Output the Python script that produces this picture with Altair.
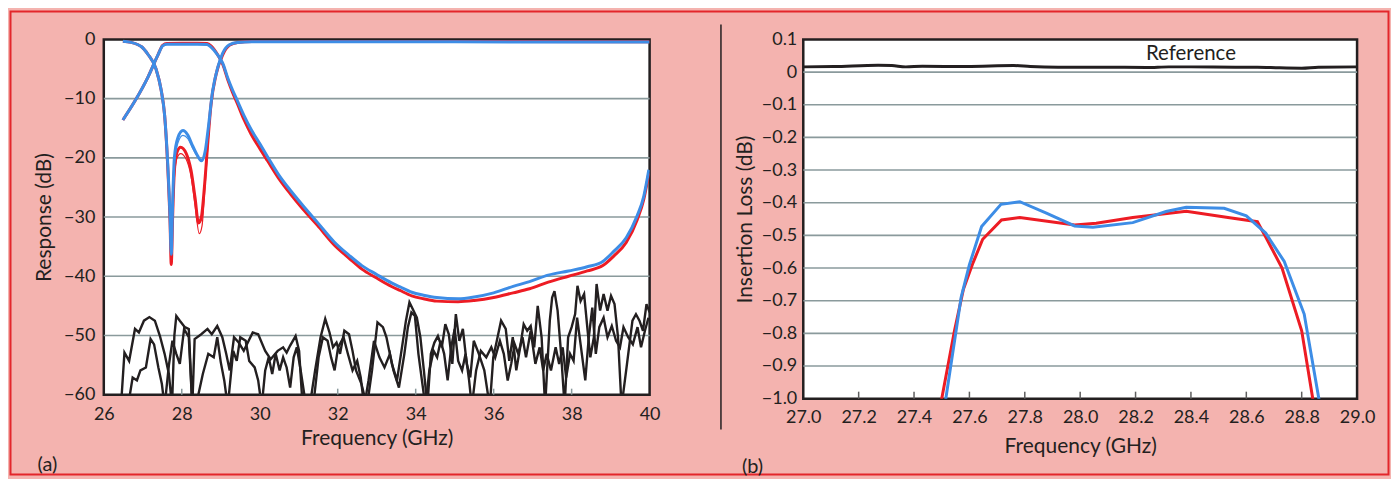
import altair as alt
import pandas as pd

# ---------------- colours / fonts ----------------
PINK = "#F4B3AF"
BORDER = "#E3262B"
DARK = "#231F20"
GRID = "#8A9A9C"
RED = "#ED1C24"
BLUE = "#3D8DE6"
FONT = "Lato"

# ---------------- panel (a) data ----------------
a_x_ticks = [26, 28, 30, 32, 34, 36, 38, 40]
a_y_ticks = [0, -10, -20, -30, -40, -50, -60]
a_grid = [-10, -20, -30, -40, -50]
a_inner_ticks = [28, 30, 32, 34, 36, 38]

s21_f = [26.49, 26.79, 27.13, 27.39, 27.51, 27.62, 28.0, 28.4, 28.65, 28.75, 28.92, 29.05,
         29.18, 29.30, 29.43, 29.6, 29.78, 30.0, 30.2, 30.5, 30.8, 31.1, 31.48, 31.91, 32.3,
         32.62, 33.0, 33.26, 33.6, 33.9, 34.2, 34.54, 35.09, 35.5, 36.0, 36.5, 36.92, 37.4,
         37.92, 38.4, 38.8, 39.08, 39.4, 39.68, 39.85, 39.98]
s21_blue_db = [-13.6, -10.5, -6.4, -2.6, -1.1, -0.8, -0.8, -0.8, -0.85, -1.3, -2.6, -4.0,
               -6.5, -8.5, -10.4, -12.9, -15.2, -17.6, -19.8, -23.0, -25.6, -28.0, -30.9, -34.2,
               -36.5, -38.2, -39.7, -40.7, -41.8, -42.7, -43.2, -43.6, -43.8, -43.5, -42.8, -41.7,
               -40.9, -39.8, -39.1, -38.4, -37.5, -35.8, -33.5, -29.8, -26.5, -22.0]
s21_red_db = [-13.6, -10.5, -6.4, -2.6, -1.0, -0.7, -0.65, -0.65, -0.7, -1.1, -2.6, -4.2,
              -6.8, -8.9, -10.9, -13.6, -16.0, -18.4, -20.5, -23.6, -26.2, -28.6, -31.4, -34.7,
              -37.0, -38.8, -40.3, -41.3, -42.4, -43.3, -43.8, -44.2, -44.3, -44.1, -43.6, -42.8,
              -42.1, -41.0, -40.0, -39.1, -38.2, -36.6, -34.3, -30.5, -27.0, -22.6]

s11_blue_f = [26.49, 26.7, 26.88, 26.96, 27.13, 27.34, 27.47, 27.56, 27.64, 27.70, 27.73, 27.77,
              27.81, 27.90, 28.03, 28.15, 28.28, 28.41, 28.50, 28.60, 28.67, 28.79, 28.92, 29.05,
              29.22, 29.43, 29.8, 30.5, 35.0, 40.0]
s11_blue_db = [-0.3, -0.5, -0.9, -1.2, -2.5, -5.0, -8.5, -12.8, -21.0, -30.1, -36.3, -26.7,
               -20.0, -16.6, -15.4, -16.1, -18.0, -19.7, -20.5, -18.9, -15.5, -8.8, -4.8, -2.3,
               -0.9, -0.5, -0.4, -0.4, -0.4, -0.45]
s11_red_f = [26.49, 26.7, 26.88, 26.96, 27.13, 27.34, 27.47, 27.56, 27.64, 27.70, 27.73, 27.77,
             27.81, 27.88, 27.97, 28.11, 28.24, 28.34, 28.43, 28.50, 28.58, 28.67, 28.75, 28.88,
             29.05, 29.22, 29.43, 29.8, 30.5, 35.0, 40.0]
s11_red_db = [-0.3, -0.5, -0.9, -1.2, -2.5, -5.0, -8.5, -12.8, -21.5, -31.0, -38.0, -29.0,
              -22.2, -19.0, -18.2, -19.2, -22.2, -26.7, -31.0, -30.1, -25.0, -17.2, -11.0, -5.9,
              -2.6, -1.0, -0.5, -0.35, -0.35, -0.35, -0.4]
s11_red_thin_f = [27.73, 27.77, 27.81, 27.88, 27.97, 28.11, 28.24, 28.34, 28.45, 28.52, 28.58, 28.67, 28.75]
s11_red_thin_db = [-38.0, -30.0, -23.5, -20.0, -19.3, -20.2, -23.2, -28.0, -32.8, -31.5, -26.5, -18.0, -11.0]
s11_blue_thin_f = [27.73, 27.77, 27.81, 27.90, 28.03, 28.15, 28.28, 28.41, 28.50]
s11_blue_thin_db = [-36.3, -27.5, -21.0, -17.5, -16.2, -16.7, -18.4, -19.9, -20.5]

noise1_f = [26.44, 26.53, 26.65, 26.80, 26.90, 27.03, 27.17, 27.31, 27.44, 27.56, 27.67, 27.75,
            27.81, 27.86, 27.95, 28.08, 28.18, 28.27,
            28.33, 28.50, 28.66, 28.77, 28.91, 29.04, 29.14, 29.23, 29.34, 29.46, 29.59, 29.82,
            29.96, 30.14, 30.28, 30.46, 30.60, 30.69, 30.78, 30.92, 31.01, 31.10,
            31.28, 31.42, 31.56, 31.68, 31.79, 31.88, 31.97, 32.06, 32.17, 32.29, 32.38, 32.47,
            32.61, 32.75, 32.88, 33.02, 33.16, 33.25, 33.39, 33.52, 33.66, 33.75, 33.84, 33.93,
            34.03, 34.12, 34.21, 34.30,
            34.39, 34.48, 34.57, 34.67, 34.76, 34.85, 34.94, 35.03, 35.12, 35.21, 35.31, 35.40,
            35.49, 35.62, 35.76, 35.90, 35.99, 36.10, 36.19, 36.31, 36.40, 36.49, 36.58, 36.68,
            36.77, 36.86, 36.95, 37.04, 37.13, 37.23, 37.32,
            37.44, 37.50, 37.56, 37.64, 37.73, 37.82, 37.91, 38.00, 38.09, 38.15, 38.23, 38.32,
            38.41, 38.48, 38.57, 38.64, 38.73, 38.82, 38.92, 39.01, 39.10, 39.19, 39.28, 39.42,
            39.56, 39.65, 39.74, 39.83, 39.92, 40.0]
noise1_db = [-62, -52.9, -54.3, -48.9, -49.5, -47.5, -46.9, -47.5, -50.1, -53.1, -56.5, -62,
             -50.0, -46.7, -47.5, -48.6, -48.9, -62,
             -50.6, -49.8, -48.9, -49.8, -48.4, -50.3, -53.1, -55.9, -50.3, -51.2, -52.6, -49.5,
             -49.8, -52.6, -54.0, -52.6, -52.0, -52.9, -51.7, -50.1, -52.6, -62,
             -62, -55.9, -50.3, -47.2, -49.5, -52.0, -51.2, -53.1, -49.2, -49.8, -52.6, -55.9,
             -58.2, -62, -55.9, -47.8, -48.6, -50.3, -54.8, -57.6, -51.5, -47.5, -44.4, -45.6,
             -47.0, -50.3, -55.9, -62,
             -53.1, -51.2, -50.1, -52.0, -48.1, -49.8, -54.8, -46.4, -50.9, -48.9, -54.8, -57.1,
             -50.9, -53.1, -55.9, -62, -53.7, -50.3, -47.5, -48.9, -54.3, -50.3, -55.9, -52.0,
             -48.1, -49.2, -48.4, -52.0, -45.0, -50.3, -62,
             -47.5, -43.6, -42.5, -45.8, -53.1, -62, -50.3, -48.6, -46.4, -41.6, -44.2, -43.0,
             -49.2, -53.7, -50.3, -41.3, -45.8, -43.0, -45.8, -43.3, -44.7, -50.3, -62, -54.8,
             -47.5, -46.4, -47.5, -49.2, -44.7, -46.1]
noise2_f = [26.62, 26.74, 26.85, 26.94, 27.08, 27.20, 27.29, 27.40, 27.49, 27.56, 27.67, 27.76,
            27.86, 27.95, 28.06, 28.18, 28.27,
            28.36, 28.54, 28.68, 28.82, 28.91, 29.00, 29.09, 29.18, 29.32, 29.41, 29.50, 29.64,
            29.73, 29.87, 29.96, 30.05, 30.14, 30.23, 30.32, 30.41, 30.51, 30.60, 30.69, 30.78,
            30.87, 30.95, 31.05, 31.19,
            31.37, 31.51, 31.62, 31.74, 31.83, 31.92, 32.01, 32.15, 32.26, 32.38, 32.50, 32.59,
            32.68, 32.79, 32.93, 33.07, 33.20, 33.34, 33.43, 33.57, 33.71, 33.80, 33.89, 33.98,
            34.07, 34.16, 34.25,
            34.35, 34.46, 34.55, 34.64, 34.73, 34.82, 34.91, 35.00, 35.09, 35.19, 35.28, 35.37,
            35.44, 35.55, 35.67, 35.81, 35.94, 36.04, 36.16, 36.26, 36.36, 36.45, 36.54, 36.63,
            36.74, 36.83, 36.95, 37.07, 37.18, 37.27, 37.36,
            37.47, 37.59, 37.68, 37.77, 37.86, 37.96, 38.05, 38.14, 38.23, 38.35, 38.44, 38.53,
            38.62, 38.71, 38.82, 38.92, 39.03, 39.14, 39.24, 39.33, 39.45, 39.57, 39.69, 39.78,
            39.88, 39.97]
noise2_db = [-62, -57.1, -57.6, -55.9, -55.4, -50.6, -51.5, -55.4, -58.2, -62, -55.0, -50.9,
             -53.1, -54.8, -48.9, -50.3, -62,
             -62, -56.5, -53.1, -53.7, -50.3, -54.5, -57.6, -62, -52.6, -54.3, -50.3, -50.9,
             -54.3, -55.4, -57.6, -62, -55.9, -53.7, -56.5, -53.1, -55.9, -53.7, -55.4, -58.8,
             -53.7, -52.0, -55.9, -62,
             -62, -53.7, -50.3, -50.9, -53.7, -55.9, -52.0, -50.3, -53.1, -55.9, -54.3, -57.1,
             -62, -57.6, -50.9, -53.7, -55.4, -53.1, -55.9, -58.8, -53.1, -48.6, -46.1, -46.7,
             -53.1, -57.6, -62,
             -55.9, -52.6, -53.7, -50.9, -53.1, -57.6, -52.0, -48.9, -54.3, -55.9, -53.1, -57.6,
             -62, -55.9, -52.6, -53.7, -52.0, -53.7, -50.9, -53.1, -57.6, -54.8, -51.5, -53.1,
             -50.3, -53.7, -49.2, -54.8, -52.0, -55.9, -53.1,
             -55.9, -52.0, -54.8, -52.0, -57.1, -53.1, -54.3, -47.0, -51.5, -57.6, -50.3, -45.3,
             -53.1, -48.6, -47.0, -50.3, -48.4, -50.9, -52.0, -48.6, -50.3, -51.5, -48.6, -52.0,
             -49.2, -47.0]

# ---------------- panel (b) data ----------------
b_x_ticks = [27.0, 27.2, 27.4, 27.6, 27.8, 28.0, 28.2, 28.4, 28.6, 28.8, 29.0]
b_y_ticks = [0.1, 0.0, -0.1, -0.2, -0.3, -0.4, -0.5, -0.6, -0.7, -0.8, -0.9, -1.0]
b_grid = [0.0, -0.1, -0.2, -0.3, -0.4, -0.5, -0.6, -0.7, -0.8, -0.9]
b_inner_ticks = [27.2, 27.4, 27.6, 27.8, 28.0, 28.2, 28.4, 28.6, 28.8]

ref_f = [27.0, 27.11, 27.27, 27.32, 27.37, 27.43, 27.59, 27.76, 27.82, 27.92, 28.08, 28.24,
         28.32, 28.40, 28.56, 28.64, 28.72, 28.80, 28.86, 29.0]
ref_v = [0.016, 0.017, 0.021, 0.020, 0.016, 0.018, 0.017, 0.020, 0.017, 0.015, 0.015, 0.014,
         0.016, 0.016, 0.015, 0.015, 0.013, 0.012, 0.015, 0.016]
il_blue_f = [27.497, 27.570, 27.600, 27.644, 27.714, 27.782, 27.878, 27.98, 28.046, 28.19,
             28.31, 28.383, 28.52, 28.60, 28.67, 28.737, 28.809, 28.862, 28.875]
il_blue = [-1.10, -0.69, -0.59, -0.473, -0.405, -0.397, -0.432, -0.471, -0.475, -0.461,
           -0.427, -0.414, -0.417, -0.44, -0.493, -0.58, -0.741, -1.0, -1.10]
il_red_f = [27.478, 27.546, 27.578, 27.613, 27.648, 27.716, 27.782, 27.98, 28.058, 28.19,
            28.383, 28.54, 28.64, 28.672, 28.729, 28.80, 28.84, 28.85]
il_red = [-1.10, -0.792, -0.666, -0.584, -0.512, -0.453, -0.445, -0.468, -0.463, -0.445,
          -0.426, -0.446, -0.458, -0.508, -0.60, -0.792, -1.0, -1.10]
ref_label = ["Reference"]
ref_label_f = [28.40]
ref_label_v = [0.054]

# ---------------- layout ----------------
LW, LH = 547, 356
RW, RH = 555, 360
TITLE_FS = 21
LABEL_FS = 18


def df(fs, vs):
    return pd.DataFrame([{"f": a, "v": b} for a, b in zip(fs, vs)])


ONE = pd.DataFrame({"k": [0]})


def xenc(domain, values, fmt, title_y, lab_pad):
    return alt.X("f:Q", scale=alt.Scale(domain=domain, nice=False, zero=False),
                 axis=alt.Axis(values=values, format=fmt, title="Frequency (GHz)", grid=False,
                               labelPadding=lab_pad, titleY=title_y, titleBaseline="alphabetic",
                               labelFlush=False, labelOverlap=False))


def yenc(domain, values, title, title_x, lab_pad, label_expr):
    return alt.Y("v:Q", scale=alt.Scale(domain=domain, nice=False, zero=False),
                 axis=alt.Axis(values=values, title=title, grid=False, labelPadding=lab_pad,
                               titleX=title_x, titleBaseline="middle", labelExpr=label_expr,
                               labelFlush=False, labelOverlap=False))


xa = xenc([26, 40], a_x_ticks, "d", 50, 10.5)
ya = yenc([-60, 0], a_y_ticks, "Response (dB)", -59, 9, "format(datum.value, 'd')")

xb = xenc([27.0, 29.0], b_x_ticks, ".1f", 54, 10)
yb = yenc([-1.0, 0.1], b_y_ticks, "Insertion Loss (dB)", -58, 6.5,
          "abs(datum.value) < 1e-9 ? '0' : format(datum.value, '.1f')")


def line(fs, vs, color, width, x, y, interp="linear"):
    return alt.Chart(df(fs, vs)).mark_line(color=color, strokeWidth=width, interpolate=interp,
                                           clip=True).encode(x=x, y=y)


# ----- panel (a) layers -----
a_layers = [
    alt.Chart(pd.DataFrame({"v": a_grid})).mark_rule(color=GRID, strokeWidth=1.6).encode(
        y=ya, x=alt.value(0), x2=alt.value(LW)),
    alt.Chart(pd.DataFrame({"f": a_inner_ticks})).mark_rule(color=GRID, strokeWidth=1.5).encode(
        x=xa, y=alt.value(LH), y2=alt.value(LH - 6)),
    line(noise1_f, noise1_db, DARK, 2.4, xa, ya),
    line(noise2_f, noise2_db, DARK, 2.4, xa, ya),
    line(s21_f, s21_red_db, RED, 3, xa, ya, "monotone"),
    line(s11_red_f, s11_red_db, RED, 3, xa, ya, "monotone"),
    line(s11_red_thin_f, s11_red_thin_db, RED, 1.2, xa, ya, "monotone"),
    line(s21_f, s21_blue_db, BLUE, 3, xa, ya, "monotone"),
    line(s11_blue_f, s11_blue_db, BLUE, 3, xa, ya, "monotone"),
    line(s11_blue_thin_f, s11_blue_thin_db, BLUE, 1.2, xa, ya, "monotone"),
    alt.Chart(ONE).mark_text(align="left", baseline="middle", fontSize=20, font=FONT,
                             color=DARK).encode(x=alt.value(-66.5), y=alt.value(426),
                                                text=alt.value("(a)")),
    alt.Chart(ONE).mark_rect(fillOpacity=0, stroke=BORDER, strokeWidth=2).encode(
        x=alt.value(-93.5), x2=alt.value(1287.5), y=alt.value(-28), y2=alt.value(436)),
]
left = alt.layer(*a_layers).properties(width=LW, height=LH)

# ----- panel (b) layers -----
ref_df = pd.DataFrame({"f": ref_label_f, "v": ref_label_v, "t": ref_label})
b_layers = [
    alt.Chart(pd.DataFrame({"v": b_grid})).mark_rule(color=GRID, strokeWidth=1.6).encode(
        y=yb, x=alt.value(0), x2=alt.value(RW)),
    alt.Chart(pd.DataFrame({"f": b_inner_ticks})).mark_rule(color="#5E5E5E", strokeWidth=1.5).encode(
        x=xb, y=alt.value(RH), y2=alt.value(RH - 7)),
    line(ref_f, ref_v, DARK, 3, xb, yb, "monotone"),
    line(il_red_f, il_red, RED, 3, xb, yb),
    line(il_blue_f, il_blue, BLUE, 3, xb, yb),
    alt.Chart(ref_df).mark_text(align="center", baseline="middle", fontSize=20.5, font=FONT,
                                color=DARK).encode(x=xb, y=yb, text="t:N"),
    alt.Chart(ONE).mark_text(align="left", baseline="middle", fontSize=20, font=FONT,
                             color=DARK).encode(x=alt.value(-61.5), y=alt.value(428),
                                                text=alt.value("(b)")),
    alt.Chart(ONE).mark_rule(color=DARK, strokeWidth=1.5).encode(
        x=alt.value(-82.5), y=alt.value(-15), y2=alt.value(391)),
]
right = alt.layer(*b_layers).properties(width=RW, height=RH)

chart = alt.hconcat(left, right, spacing=154, bounds="flush").properties(
    padding=0
).configure(
    background=PINK, font=FONT
).configure_view(
    stroke=DARK, strokeWidth=2.5, fill="white"
).configure_axis(
    labelFont=FONT, labelFontSize=LABEL_FS, labelColor=DARK, titleFont=FONT,
    titleFontSize=TITLE_FS, titleColor=DARK, titleFontWeight="normal", domain=False,
    ticks=False, tickSize=0
)

chart.save("out.html", embed_options={"renderer": "svg", "actions": False})
